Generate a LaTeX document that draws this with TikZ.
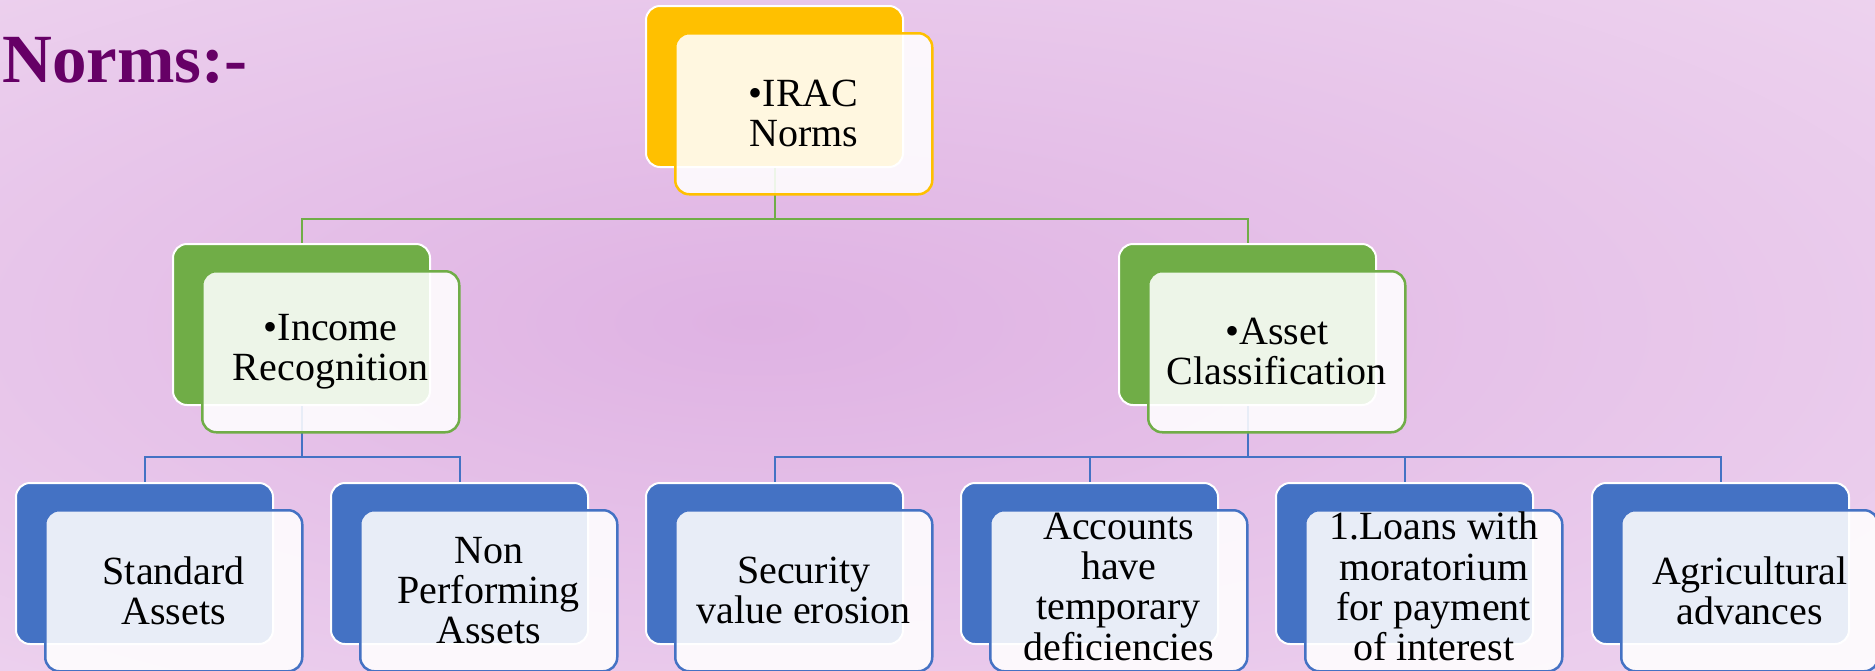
\documentclass[tikz,border=0pt]{standalone}
\usepackage{fontspec}
\setmainfont{Liberation Serif}
\definecolor{bgin}{HTML}{DFB2E3}
\definecolor{bgout}{HTML}{F6E7F6}
\definecolor{gold}{HTML}{FFC000}
\definecolor{leaf}{HTML}{70AD47}
\definecolor{sky}{HTML}{4472C4}
\definecolor{plum}{HTML}{660066}
\pgfdeclareradialshading{bgshade}{\pgfpoint{-5bp}{1bp}}{color(0bp)=(bgin); color(60bp)=(bgout)}
\begin{document}
\begin{tikzpicture}[x=1pt,y=-1pt,
  backbox/.style={draw=white, line width=2pt, rounded corners=14pt, minimum width=257pt, minimum height=161pt, anchor=north west, inner sep=0pt},
  frontbox/.style={draw=#1, line width=2.5pt, fill=white, fill opacity=0.88, rounded corners=14pt, minimum width=257pt, minimum height=161pt, anchor=north west, inner sep=0pt},
  boxtext/.style={font=\fontsize{40}{40.3}\selectfont, align=center, text=black, inner sep=0pt},
  leafline/.style={draw=leaf, line width=2pt},
  skyline/.style={draw=sky, line width=2pt}]
\useasboundingbox (0,0) rectangle (1875,670);
\clip (0,0) rectangle (1875,670);
\shade[shading=bgshade] (0,0) rectangle (1875,670);

\node[anchor=base west, font=\fontsize{69}{70}\selectfont\bfseries, text=plum, inner sep=0pt] (title) at (2,82) {Norms:-};

% back boxes
\node[backbox, fill=gold] (b0) at (645,5) {};
\node[backbox, fill=leaf] (b1) at (172,243) {};
\node[backbox, fill=leaf] (b2) at (1118,243) {};
\node[backbox, fill=sky] (c1) at (15,482) {};
\node[backbox, fill=sky] (c2) at (330,482) {};
\node[backbox, fill=sky] (c3) at (645,482) {};
\node[backbox, fill=sky] (c4) at (960,482) {};
\node[backbox, fill=sky] (c5) at (1275,482) {};
\node[backbox, fill=sky] (c6) at (1591,482) {};

% connectors
\coordinate (bus1) at (0,219);
\coordinate (bus2) at (0,457);
\draw[leafline] (b0.south) -- (b0.south |- bus1) -| (b1.north);
\draw[leafline] (b0.south |- bus1) -| (b2.north);
\draw[skyline] (b1.south) -- (b1.south |- bus2) -| (c1.north);
\draw[skyline] (b1.south |- bus2) -| (c2.north);
\draw[skyline] (b2.south) -- (b2.south |- bus2) -| (c3.north);
\draw[skyline] (b2.south |- bus2) -| (c4.north);
\draw[skyline] (b2.south |- bus2) -| (c5.north);
\draw[skyline] (b2.south |- bus2) -| (c6.north);

% front boxes
\node[frontbox=gold] (f0) at (674,32) {};
\node[frontbox=leaf] (g1) at (201,270) {};
\node[frontbox=leaf] (g2) at (1147,270) {};
\node[frontbox=sky] (d1) at (44,509) {};
\node[frontbox=sky] (d2) at (359,509) {};
\node[frontbox=sky] (d3) at (674,509) {};
\node[frontbox=sky] (d4) at (989,509) {};
\node[frontbox=sky] (d5) at (1304,509) {};
\node[frontbox=sky] (d6) at (1620,509) {};

% texts
\node[boxtext] (t0) at (f0.center) {•IRAC\\Norms};
\node[boxtext] (t1) at (g1.center) {•Income\\Recognition};
\node[boxtext] (t2) at (g2.center) {•Asset\\Classification};
\node[boxtext] (s1) at (d1.center) {Standard\\Assets};
\node[boxtext] (s2) at (d2.center) {Non\\Performing\\Assets};
\node[boxtext] (s3) at (d3.center) {Security\\value erosion};
\node[boxtext] (s4) at ([yshift=4pt]d4.center) {Accounts\\have\\temporary\\deficiencies};
\node[boxtext] (s5) at ([yshift=4pt]d5.center) {1.Loans with\\moratorium\\for payment\\of interest};
\node[boxtext] (s6) at (d6.center) {Agricultural\\advances};
\end{tikzpicture}
\end{document}
